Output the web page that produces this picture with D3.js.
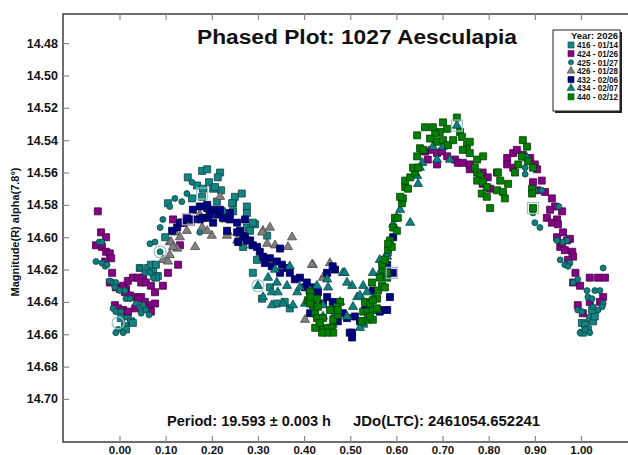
<!DOCTYPE html>
<html><head><meta charset="utf-8">
<script src="https://cdn.jsdelivr.net/npm/d3@7"></script>
<style>
body{margin:0;background:#fff}
svg{display:block}
text{font-family:"Liberation Sans",Arial,Helvetica,sans-serif;font-weight:bold;fill:#111}
</style>
</head><body>
<svg id="chart" width="628" height="455"></svg>
<script>
// ---------- data ----------
const titleText = "Phased Plot: 1027 Aesculapia";
const yLabelText = "Magnitude(R) alpha(7.8°)";
const periodText = "Period: 19.593 ± 0.003 h";
const epochText = "JDo(LTC): 2461054.652241";
const legendTitle = "Year: 2026";
const xTicks = [0.0,0.1,0.2,0.3,0.4,0.5,0.6,0.7,0.8,0.9,1.0];
const yTicks = [14.48,14.50,14.52,14.54,14.56,14.58,14.60,14.62,14.64,14.66,14.68,14.70];
const sessionLabels = ["416 - 01/14","424 - 01/26","425 - 01/27","426 - 01/28","432 - 02/06","434 - 02/07","440 - 02/12"];

const s416 = [[0.148,14.563],[0.179,14.559],[0.190,14.558],[0.218,14.560],[0.213,14.563],[0.194,14.566],[0.168,14.568],[0.181,14.570],[0.203,14.570],[0.220,14.571],[0.157,14.576],[0.179,14.575],[0.105,14.579],[0.246,14.579],[0.250,14.575],[0.211,14.578],[0.222,14.584],[0.246,14.584],[0.294,14.592],[0.276,14.594],[0.320,14.599],[0.099,14.600],[0.207,14.569],[0.244,14.579],[0.265,14.573],[0.276,14.581],[0.276,14.585],[0.289,14.591],[0.283,14.596],[0.268,14.606],[0.289,14.622],[0.298,14.614],[0.326,14.631],[0.341,14.641],[0.369,14.644],[0.358,14.640],[0.309,14.638],
 [0.044,14.619],[0.062,14.619],[0.073,14.620],[0.068,14.617],[0.079,14.617],[0.083,14.624],[0.079,14.625],[0.003,14.650],[0.018,14.649],[0.025,14.652],[0.029,14.653],[0.012,14.655],[0.014,14.657],
 [1.002,14.653],[1.009,14.654],[1.019,14.650],[1.026,14.652],[1.030,14.649],[1.015,14.657],[1.004,14.659],[1.024,14.645]];

const s424 = [[-0.047,14.584],[-0.040,14.597],[-0.029,14.600],[-0.051,14.605],[-0.038,14.606],[-0.029,14.609],[-0.021,14.610],[-0.018,14.613],[-0.031,14.615],[-0.016,14.622],[-0.021,14.628],[-0.008,14.631],[0.001,14.632],[0.014,14.632],[0.008,14.630],[0.018,14.627],[0.029,14.625],[0.040,14.625],[0.051,14.625],[0.047,14.628],[0.057,14.628],[0.068,14.630],[0.077,14.634],[0.094,14.630],[0.105,14.622],[0.127,14.617],[0.012,14.634],[0.023,14.636],[0.034,14.637],[0.047,14.637],[0.055,14.640],[0.066,14.642],[0.077,14.641],[0.057,14.644],[0.068,14.646],[-0.010,14.642],[-0.003,14.644],[0.008,14.645],[0.018,14.646],[0.034,14.644],[0.040,14.638],[0.116,14.589],[0.135,14.591],[0.131,14.605],[0.148,14.589],
 [0.662,14.547],[0.677,14.546],[0.688,14.548],[0.699,14.547],[0.688,14.555],[0.668,14.552],[0.710,14.550],[0.727,14.552],[0.733,14.554],[0.744,14.554],[0.759,14.558],[0.759,14.555],[0.787,14.560],[0.798,14.563],[0.787,14.567],[0.803,14.570],[0.818,14.560],[0.840,14.551],[0.853,14.548],[0.861,14.546],[0.874,14.549],[0.890,14.551],[0.900,14.555],[0.905,14.558],[0.840,14.555],[0.853,14.557],[0.896,14.566],[0.915,14.565],[0.905,14.571],[0.922,14.572],[0.937,14.576],[0.944,14.581],[0.933,14.583],[0.959,14.584],[0.926,14.588],[0.948,14.589],[0.937,14.591],[0.950,14.592],[0.948,14.600],[0.970,14.602],[0.955,14.606],[0.961,14.597],[0.976,14.601],[0.959,14.604],[0.965,14.608],[0.981,14.609],[0.983,14.612],[0.972,14.614],[0.988,14.622],[0.983,14.628],[0.998,14.630],[1.019,14.625],[1.037,14.625],[1.052,14.625],[1.048,14.637],[1.041,14.640],[0.993,14.642],[1.019,14.640],[1.004,14.647]];

const s425 = [[-0.044,14.603],[-0.038,14.603],[-0.051,14.615],[-0.038,14.616],[-0.031,14.618],[-0.027,14.617],[-0.021,14.627],[-0.014,14.628],[-0.008,14.628],[-0.010,14.631],[0.001,14.633],[0.012,14.633],[0.014,14.638],[0.023,14.638],[0.036,14.641],[0.044,14.643],[0.051,14.642],[0.057,14.645],[0.064,14.648],[0.047,14.647],[-0.014,14.644],[-0.008,14.646],[0.003,14.646],[-0.003,14.657],[-0.008,14.659],[0.008,14.659],[0.044,14.619],[0.055,14.622],[0.066,14.622],[0.073,14.625],
 [0.066,14.604],[0.077,14.603],[0.088,14.594],[0.094,14.589],[0.120,14.576],[0.135,14.578],[0.109,14.581],[0.157,14.566],[0.146,14.573],[0.174,14.597],[0.088,14.609],
 [0.879,14.557],[0.915,14.571],[0.900,14.591],[0.911,14.594],[0.952,14.581],[0.948,14.602],[0.961,14.603],[0.970,14.602],[0.955,14.614],[0.965,14.617],[0.976,14.616],[0.972,14.618],[1.048,14.619],[0.983,14.628],[0.993,14.626],[1.013,14.633],[1.030,14.633],[1.041,14.633],[1.048,14.641],[1.046,14.643],[1.037,14.645],[1.026,14.643],[0.993,14.645],[1.002,14.646],[1.015,14.637],[1.024,14.638],[0.998,14.659],[1.009,14.657],[1.019,14.659],[0.900,14.571],[0.896,14.585],[0.879,14.561]];

const s426 = [[0.218,14.575],[0.200,14.599],[0.164,14.606],[0.265,14.603],[0.287,14.605],[0.311,14.596],[0.326,14.594],[0.374,14.600],[0.365,14.606],[0.235,14.597],[0.179,14.594],[0.146,14.596],[0.120,14.597],[0.131,14.600],[0.109,14.603],[0.125,14.607],[0.233,14.599],[0.255,14.602],[0.309,14.597],[0.320,14.604],[0.337,14.605],[0.419,14.617],[0.456,14.616],[0.441,14.625],[0.190,14.596],[0.094,14.614],[0.105,14.615],[0.112,14.603],[0.116,14.606],[0.109,14.611],[0.417,14.617],[0.445,14.623],[0.174,14.586],[0.196,14.583],[0.229,14.589],[0.153,14.591],[0.402,14.651]];

const s432 = [[0.159,14.583],[0.174,14.581],[0.190,14.582],[0.203,14.583],[0.213,14.586],[0.181,14.588],[0.157,14.589],[0.138,14.591],[0.114,14.596],[0.125,14.594],[0.174,14.589],[0.192,14.588],[0.203,14.591],[0.224,14.588],[0.239,14.589],[0.255,14.591],[0.272,14.589],[0.261,14.596],[0.272,14.600],[0.283,14.602],[0.289,14.605],[0.131,14.591],[0.146,14.588],[0.190,14.580],[0.218,14.583],[0.196,14.586],[0.239,14.585],[0.233,14.596],[0.255,14.597],[0.268,14.599],[0.276,14.602],[0.257,14.603],[0.298,14.606],[0.304,14.609],[0.311,14.612],[0.326,14.613],[0.348,14.607],[0.315,14.616],[0.330,14.618],[0.341,14.615],[0.352,14.617],[0.363,14.619],[0.348,14.622],[0.369,14.622],[0.391,14.625],[0.380,14.626],[0.406,14.628],[0.402,14.631],[0.419,14.631],[0.430,14.634],[0.419,14.637],[0.450,14.637],[0.441,14.641],[0.462,14.640],[0.471,14.645],[0.484,14.647],[0.493,14.650],[0.510,14.649],[0.521,14.652],[0.504,14.659],[0.564,14.645],[0.549,14.633],[0.450,14.622],[0.467,14.620],[0.593,14.600],[0.571,14.618],[0.413,14.647],[0.499,14.659],[0.504,14.662],[0.473,14.652],[0.532,14.645],[0.564,14.646],[0.580,14.645],[0.586,14.637],[0.593,14.622],[0.580,14.617],[0.462,14.618]];

const s434 = [[0.322,14.625],[0.311,14.637],[0.330,14.634],[0.343,14.634],[0.363,14.630],[0.341,14.628],[0.385,14.634],[0.413,14.633],[0.450,14.626],[0.484,14.622],[0.504,14.630],[0.528,14.630],[0.515,14.637],[0.536,14.634],[0.549,14.638],[0.543,14.645],[0.528,14.653],[0.558,14.645],[0.564,14.614],[0.575,14.615],[0.564,14.622],[0.580,14.610],[0.493,14.649],[0.467,14.647],[0.452,14.631],[0.330,14.642],[0.354,14.641],[0.337,14.620],[0.369,14.618],[0.488,14.622],[0.493,14.628],[0.521,14.636],[0.506,14.643],[0.478,14.640],[0.441,14.642],[0.402,14.641],[0.376,14.642],[0.391,14.631],[0.428,14.630],[0.528,14.654],[0.521,14.656],[0.462,14.654],[0.441,14.649],[0.580,14.612],[0.549,14.622],[0.593,14.592],[0.601,14.588],[0.608,14.583],[0.630,14.591],[0.645,14.562],[0.647,14.567],[0.651,14.557],[0.656,14.554],[0.688,14.552],[0.716,14.552],[0.731,14.531],[0.701,14.544],[0.679,14.544],[0.883,14.551],[0.300,14.630]];

const s440 = [[0.413,14.634],[0.408,14.639],[0.419,14.642],[0.424,14.647],[0.428,14.650],[0.434,14.654],[0.441,14.657],[0.452,14.656],[0.460,14.656],[0.463,14.659],[0.450,14.659],[0.439,14.659],[0.463,14.651],[0.473,14.648],[0.478,14.640],[0.471,14.643],[0.456,14.645],[0.528,14.646],[0.538,14.646],[0.549,14.645],[0.525,14.652],[0.538,14.651],[0.549,14.651],[0.532,14.640],[0.543,14.641],[0.558,14.638],[0.560,14.633],[0.569,14.630],[0.575,14.631],[0.564,14.625],[0.580,14.625],[0.547,14.628],[0.571,14.620],[0.580,14.622],[0.569,14.617],[0.575,14.614],[0.413,14.637],[0.428,14.638],[0.413,14.641],[0.430,14.643],[0.441,14.650],[0.424,14.656],[0.434,14.653],[0.473,14.645],[0.543,14.649],[0.582,14.608],[0.586,14.602],[0.590,14.606],[0.593,14.594],[0.597,14.588],[0.601,14.596],[0.582,14.604],[0.603,14.588],[0.612,14.579],[0.614,14.576],[0.608,14.575],[0.619,14.569],[0.625,14.570],[0.619,14.565],[0.630,14.563],[0.640,14.560],[0.636,14.557],[0.647,14.557],[0.645,14.550],[0.651,14.545],[0.658,14.546],[0.645,14.537],[0.662,14.532],[0.679,14.532],[0.701,14.529],[0.710,14.533],[0.694,14.535],[0.684,14.536],[0.673,14.539],[0.688,14.541],[0.701,14.540],[0.712,14.543],[0.723,14.540],[0.731,14.526],[0.738,14.535],[0.742,14.538],[0.753,14.543],[0.759,14.541],[0.744,14.546],[0.759,14.548],[0.775,14.552],[0.788,14.550],[0.770,14.557],[0.775,14.560],[0.781,14.562],[0.775,14.565],[0.788,14.566],[0.796,14.569],[0.785,14.573],[0.796,14.575],[0.803,14.582],[0.818,14.571],[0.831,14.572],[0.825,14.565],[0.820,14.560],[0.835,14.576],[0.842,14.567],[0.857,14.560],[0.864,14.555],[0.872,14.550],[0.874,14.540],[0.883,14.544],[0.885,14.553],[0.896,14.557],[0.894,14.570],[0.894,14.573],[0.896,14.582],[0.549,14.639],[0.558,14.644]];

// highlighted (hollow) marks: [phase, mag, session index]
const boxMarks = [[0.179,14.573,0],[0.148,14.589,1],[0.590,14.622,4],[0.731,14.531,5],[0.896,14.582,6]];
const ringMarks = [[0.088,14.609,2],[-0.003,14.653,2],[0.300,14.630,5]];

// ---------- styling ----------
const allSeries = [s416,s424,s425,s426,s432,s434,s440];
const shapes = ["square","square","circle","triangle","square","triangle","square"];
const fills   = ["#148585","#850085","#0e7e7e","#808080","#000086","#0f8080","#008000"];
const strokes = ["#0a4444","#460046","#084848","#4a4a4a","#00003c","#094848","#003d00"];
const lights  = ["#90c8c8","#cfa6cf","#90c8c8","#c0c0c0","#a8a8d8","#90c8c8","#98cc98"];

const svg = d3.select("#chart");
const L = 63, R = 630, T = 14, B = 442;
const x = d3.scaleLinear().domain([-0.1224, 1.1062]).range([L, R]);
const y = d3.scaleLinear().domain([14.462, 14.7266]).range([T, B]);

const symType = {square: d3.symbolSquare, circle: d3.symbolCircle, triangle: d3.symbolTriangle};
const symSize = {square: 49, circle: 28, triangle: 36};
function sym(shape, scale=1){ return d3.symbol().type(symType[shape]).size(symSize[shape]*scale)(); }

// frame
svg.append("rect").attr("x",L).attr("y",T).attr("width",R-L).attr("height",B-T)
  .attr("fill","none").attr("stroke","#222").attr("stroke-width",1.3);

// axes
const yAxis = d3.axisLeft(y).tickValues(yTicks).tickFormat(d3.format(".2f")).tickSize(-6).tickSizeOuter(0).tickPadding(5);
const gy = svg.append("g").attr("transform",`translate(${L},0)`).call(yAxis);
const xAxis = d3.axisBottom(x).tickValues(xTicks).tickFormat(d3.format(".2f")).tickSize(-6).tickSizeOuter(0).tickPadding(4);
const gx = svg.append("g").attr("transform",`translate(0,${B})`).call(xAxis);
const xTop = d3.axisTop(x).tickValues(xTicks).tickFormat("").tickSize(-6).tickSizeOuter(0);
const gt = svg.append("g").attr("transform",`translate(0,${T})`).call(xTop);
[gy,gx,gt].forEach(g=>{
  g.select(".domain").remove();
  g.selectAll(".tick line").attr("stroke","#8a8a8a").attr("stroke-width",1.2);
  g.selectAll("text").attr("font-family",null).attr("fill","#111");
});
gy.selectAll("text").style("font-size","12.5px");
gx.selectAll("text").style("font-size","11.5px");

// points
const clipId = "plotclip";
svg.append("clipPath").attr("id",clipId).append("rect").attr("x",L).attr("y",T).attr("width",R-L).attr("height",B-T);
const pg = svg.append("g").attr("clip-path",`url(#${clipId})`);
allSeries.forEach((data,i)=>{
  pg.append("g").selectAll("path").data(data).join("path")
    .attr("d", sym(shapes[i]))
    .attr("transform", d=>`translate(${x(d[0])},${y(d[1])})`)
    .attr("fill", fills[i]).attr("stroke", strokes[i]).attr("stroke-width",0.8);
});
pg.append("g").selectAll("rect").data(boxMarks).join("rect")
  .attr("x",d=>x(d[0])-5.5).attr("y",d=>y(d[1])-5.5).attr("width",11).attr("height",11)
  .attr("fill","none").attr("stroke",d=>lights[d[2]]).attr("stroke-width",1.2);
pg.append("g").selectAll("circle").data(ringMarks).join("circle")
  .attr("cx",d=>x(d[0])).attr("cy",d=>y(d[1])).attr("r",6)
  .attr("fill","none").attr("stroke",d=>lights[d[2]]).attr("stroke-width",1.2);

// title
svg.append("text").attr("x",357).attr("y",44).attr("text-anchor","middle")
  .style("font-size","20px").attr("textLength",320).attr("lengthAdjust","spacingAndGlyphs").text(titleText);

// y label
svg.append("text").attr("transform","translate(19,232) rotate(-90)").attr("text-anchor","middle")
  .style("font-size","11px").text(yLabelText);

// bottom texts
svg.append("text").attr("x",167).attr("y",426).style("font-size","14px").attr("textLength",164).attr("lengthAdjust","spacingAndGlyphs").text(periodText);
svg.append("text").attr("x",353).attr("y",426).style("font-size","14px").attr("textLength",187).attr("lengthAdjust","spacingAndGlyphs").text(epochText);

// legend
const lg = svg.append("g");
lg.append("rect").attr("x",555).attr("y",32).attr("width",67).attr("height",81).attr("fill","#222");
lg.append("rect").attr("x",553).attr("y",30).attr("width",67).attr("height",81).attr("fill","#fff").attr("stroke","#222").attr("stroke-width",1);
lg.append("text").attr("x",618).attr("y",38.5).attr("text-anchor","end").style("font-size","9.5px")
  .attr("textLength",47).attr("lengthAdjust","spacingAndGlyphs").text(legendTitle);
const rowY = d3.scaleLinear().domain([0,6]).range([45,96.8]);
sessionLabels.forEach((lab,i)=>{
  const shape = shapes[i];
  lg.append("path").attr("d", sym(shape, 0.75))
    .attr("transform",`translate(571,${rowY(i)})`)
    .attr("fill",fills[i]).attr("stroke",strokes[i]).attr("stroke-width",0.6);
  lg.append("text").attr("x",618).attr("y",rowY(i)+3.3).attr("text-anchor","end").style("font-size","8.8px")
    .attr("textLength",41).attr("lengthAdjust","spacingAndGlyphs").text(lab);
});
</script>
</body></html>
